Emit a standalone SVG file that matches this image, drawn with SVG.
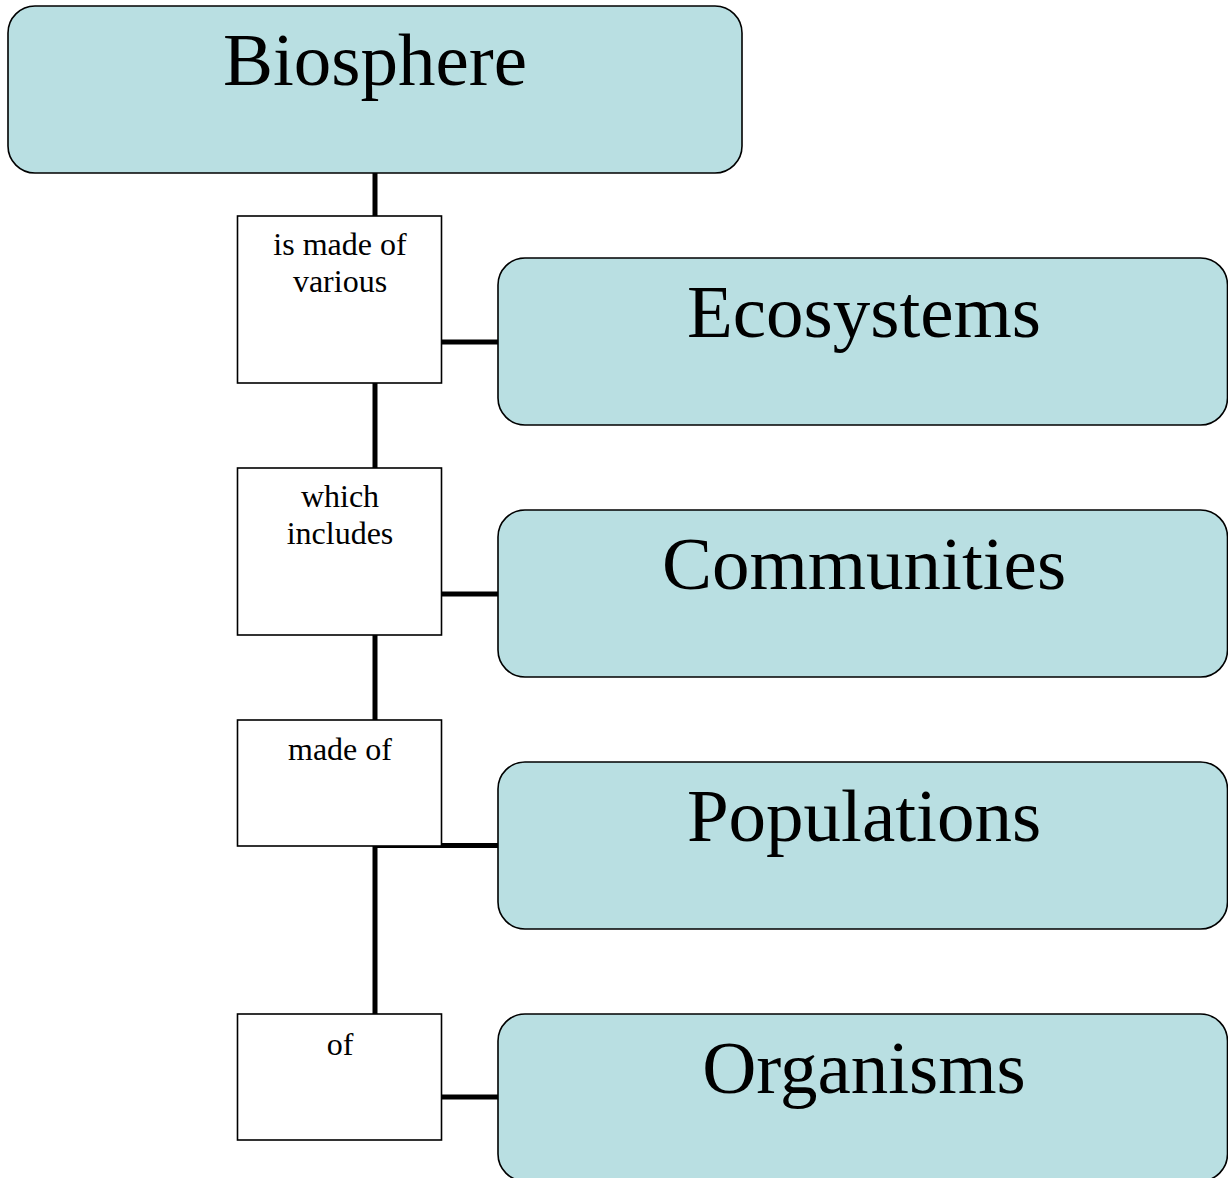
<svg xmlns="http://www.w3.org/2000/svg" width="1228" height="1178" viewBox="0 0 1228 1178">
  <style>
    .concept { fill: #b9dfe2; stroke: #000; stroke-width: 1.6; }
    .link { fill: #fff; stroke: #000; stroke-width: 1.6; }
    .wire { stroke: #000; stroke-width: 5; fill: none; }
    .big { font-family: "Liberation Serif", "Times New Roman", serif; font-size: 75px; text-anchor: middle; fill: #000; }
    .small { font-family: "Liberation Serif", "Times New Roman", serif; font-size: 32px; text-anchor: middle; fill: #000; }
  </style>

  <!-- connectors -->
  <g id="connectors">
    <line class="wire" x1="375" y1="173" x2="375" y2="216"/>
    <line class="wire" x1="375" y1="383" x2="375" y2="468"/>
    <line class="wire" x1="375" y1="635" x2="375" y2="720"/>
    <line class="wire" x1="375" y1="846" x2="375" y2="1014"/>
    <line class="wire" x1="442" y1="342" x2="498" y2="342"/>
    <line class="wire" x1="442" y1="594" x2="498" y2="594"/>
    <line class="wire" x1="373" y1="845.5" x2="498" y2="845.5"/>
    <line class="wire" x1="442" y1="1097" x2="498" y2="1097"/>
  </g>

  <!-- concepts -->
  <g id="biosphere">
    <rect class="concept" x="8" y="6" width="734" height="167" rx="27" ry="27"/>
    <text class="big" x="375" y="85">Biosphere</text>
  </g>
  <g id="ecosystems">
    <rect class="concept" x="498" y="258" width="729.5" height="167" rx="27" ry="27"/>
    <text class="big" x="864" y="337">Ecosystems</text>
  </g>
  <g id="communities">
    <rect class="concept" x="498" y="510" width="729.5" height="167" rx="27" ry="27"/>
    <text class="big" x="864" y="589">Communities</text>
  </g>
  <g id="populations">
    <rect class="concept" x="498" y="762" width="729.5" height="167" rx="27" ry="27"/>
    <text class="big" x="864" y="841">Populations</text>
  </g>
  <g id="organisms">
    <rect class="concept" x="498" y="1014" width="729.5" height="167" rx="27" ry="27"/>
    <text class="big" x="864" y="1093">Organisms</text>
  </g>

  <!-- linking phrases -->
  <g id="link-made-of-various">
    <rect class="link" x="237.5" y="216" width="204" height="167"/>
    <text class="small" x="340" y="255">is made of</text>
    <text class="small" x="340" y="292">various</text>
  </g>
  <g id="link-which-includes">
    <rect class="link" x="237.5" y="468" width="204" height="167"/>
    <text class="small" x="340" y="507">which</text>
    <text class="small" x="340" y="544">includes</text>
  </g>
  <g id="link-made-of">
    <rect class="link" x="237.5" y="720" width="204" height="126"/>
    <text class="small" x="340" y="760">made of</text>
  </g>
  <g id="link-of">
    <rect class="link" x="237.5" y="1014" width="204" height="126"/>
    <text class="small" x="340" y="1055">of</text>
  </g>
</svg>
